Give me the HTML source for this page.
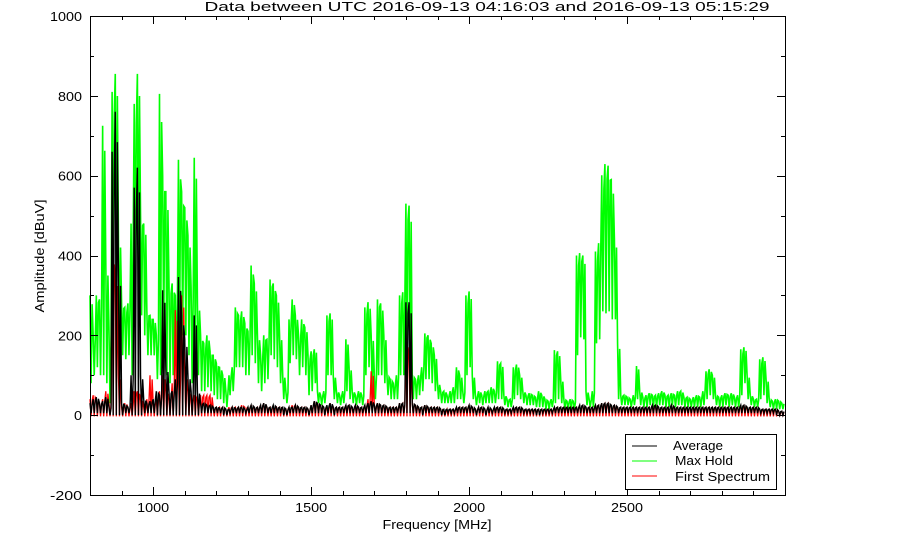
<!DOCTYPE html>
<html><head><meta charset="utf-8"><style>
body{margin:0;background:#fff;}
svg{display:block;font-family:"Liberation Sans",sans-serif;}
</style></head><body>
<svg id="chart" width="904" height="539" viewBox="0 0 904 539">
<text x="487" y="11" text-anchor="middle" font-size="13" textLength="565" lengthAdjust="spacingAndGlyphs">Data between UTC 2016-09-13 04:16:03 and 2016-09-13 05:15:29</text>
<g id="plot"></g>
<g id="axes"></g>
<text x="437" y="529" text-anchor="middle" font-size="13" textLength="109" lengthAdjust="spacingAndGlyphs">Frequency [MHz]</text>
<text transform="translate(44,256) rotate(-90)" text-anchor="middle" font-size="13" textLength="113" lengthAdjust="spacingAndGlyphs">Amplitude [dBuV]</text>
<g>
<rect x="625.5" y="434.5" width="151" height="55" fill="#fff" stroke="#000"/>
<line x1="632" y1="446" x2="657" y2="446" stroke="#000"/>
<text x="673" y="450" font-size="13" textLength="50" lengthAdjust="spacingAndGlyphs">Average</text>
<line x1="632" y1="461" x2="657" y2="461" stroke="#00ff00"/>
<text x="675" y="465" font-size="13" textLength="58" lengthAdjust="spacingAndGlyphs">Max Hold</text>
<line x1="632" y1="476" x2="657" y2="476" stroke="#ff0000"/>
<text x="675" y="481" font-size="13" textLength="95" lengthAdjust="spacingAndGlyphs">First Spectrum</text>
</g>
</svg>
<script>
const binStart = 800;
const binWidth = 10;
const maxHi = [300,200,300,290,725,380,220,810,855,450,
280,270,280,480,780,855,500,480,260,250,
240,200,805,600,560,330,330,300,640,560,
520,450,320,645,280,200,180,200,160,150,
130,120,100,60,100,120,270,250,260,230,
210,375,330,200,150,200,190,340,330,300,
200,100,60,240,290,250,200,240,220,150,
160,165,60,50,60,250,255,100,60,50,
60,190,120,60,50,60,50,270,283,200,
100,290,280,200,100,90,80,100,300,308,
530,525,100,90,100,120,205,200,180,150,
80,60,60,50,60,70,120,100,60,300,
310,100,50,60,50,60,60,70,60,135,
130,50,40,40,120,127,100,60,50,55,
50,45,60,50,40,35,40,163,160,90,
40,35,40,35,400,406,400,60,40,60,
410,431,601,629,625,590,440,180,50,50,
45,40,50,123,60,45,50,55,50,50,
55,60,50,50,55,50,60,60,45,45,
40,45,50,45,60,110,115,100,50,45,
50,55,50,55,45,50,165,170,100,50,
40,40,140,145,90,40,35,40,35,30];
const maxLo = [80,100,120,100,100,80,30,200,300,150,
150,140,150,100,300,300,250,200,150,150,
150,90,100,200,100,80,100,100,150,200,
200,150,80,120,100,60,60,70,60,50,
40,40,30,20,50,60,120,120,120,100,
100,150,130,80,60,80,90,150,140,120,
80,40,30,130,150,140,100,120,100,50,
60,80,30,25,30,100,100,40,30,25,
30,60,40,30,25,30,25,100,120,60,
40,100,100,80,50,40,40,40,100,100,
120,120,40,40,50,60,90,90,80,60,
40,30,30,30,30,30,40,40,30,100,
120,40,25,30,25,30,30,30,30,40,
40,25,20,20,40,50,40,30,25,25,
25,20,20,20,15,15,20,30,40,30,
15,15,15,15,150,195,190,25,20,20,
180,190,260,255,260,240,240,40,25,25,
25,20,25,40,25,20,20,25,20,20,
25,25,20,20,25,20,25,25,20,20,
20,20,20,20,25,40,50,40,25,20,
20,25,20,25,20,20,50,80,40,25,
20,20,40,50,30,20,15,15,15,15];
const avgHi = [30,40,45,30,35,45,20,660,760,360,
30,25,20,100,570,620,100,40,30,35,
40,60,50,313,120,60,60,90,346,250,
190,100,60,250,60,30,30,25,25,20,
20,18,20,15,15,20,18,20,20,15,
20,25,20,20,25,30,20,20,25,20,
20,20,15,20,20,25,20,20,20,15,
25,35,30,25,20,25,30,20,20,20,
20,25,25,20,25,20,20,25,30,35,
25,30,25,25,20,20,20,20,30,30,
283,283,30,25,20,20,25,20,20,20,
20,15,15,15,15,15,20,20,20,20,
25,20,15,20,20,15,20,15,20,20,
20,15,15,15,20,20,20,15,15,15,
15,15,15,15,15,15,15,20,20,20,
20,20,20,20,20,25,25,20,20,20,
25,25,30,30,30,25,25,20,20,20,
20,20,20,20,20,20,20,20,25,25,
20,20,20,20,25,20,20,20,20,20,
20,20,20,20,20,20,20,20,20,20,
20,20,20,20,20,20,25,25,20,20,
20,20,15,15,15,15,15,15,10,10];
const avgLo = [5,5,5,5,5,5,0,0,0,0,
0,5,5,0,0,0,0,5,5,5,
5,0,0,0,0,0,0,0,0,0,
0,0,0,0,0,5,5,5,5,5,
5,5,0,0,5,5,5,5,5,5,
5,5,5,5,5,5,5,5,5,5,
5,0,0,5,5,5,5,5,5,0,
5,5,5,5,0,5,5,0,5,5,
5,5,5,5,5,5,5,5,5,5,
5,5,5,5,5,5,5,5,5,5,
5,5,5,5,5,0,5,5,5,5,
5,0,0,5,5,5,5,5,5,5,
5,5,0,5,5,0,5,5,5,5,
5,5,5,5,5,5,5,5,5,5,
5,0,0,5,5,5,5,5,5,5,
5,5,5,5,5,5,5,5,5,5,
5,5,5,5,5,5,5,5,5,5,
5,5,5,5,5,5,5,5,5,5,
5,5,5,5,5,5,5,5,5,5,
5,5,5,5,5,5,5,5,5,5,
5,5,5,5,5,5,5,5,5,5,
5,5,5,5,5,5,5,0,0,0];
const firstHi = [40,50,40,30,40,60,30,420,360,100,
20,30,20,30,60,60,40,20,40,100,
30,40,60,100,60,40,80,263,100,300,
100,60,40,50,40,50,50,50,50,20,
20,20,20,15,20,20,20,20,25,20,
20,25,20,20,25,30,20,20,20,20,
20,15,15,20,25,25,20,20,20,15,
25,35,30,25,20,20,30,20,20,20,
20,25,25,20,25,20,20,25,40,110,
25,30,25,25,20,20,20,20,30,30,
170,170,30,25,20,20,25,20,20,20,
20,15,10,15,15,15,20,20,20,20,
25,20,15,20,20,15,20,15,20,20,
20,15,15,15,20,20,20,15,15,15,
15,15,15,15,15,15,15,20,20,20,
20,20,20,20,20,25,25,20,20,20,
25,25,30,30,30,25,25,20,20,20,
20,20,20,20,20,20,20,20,25,25,
20,20,20,20,25,20,20,20,20,20,
20,20,20,20,20,20,20,20,20,20,
20,20,20,20,20,20,25,25,20,20,
20,20,15,15,15,15,15,15,10,10];
const firstLo = new Array(220).fill(-3);
const yTicks = [-200,0,200,400,600,800,1000];
const xTicks = [1000,1500,2000,2500];

const X0=90,X1=785,Y0=16,Y1=495,FMIN=800,FMAX=3000,VMIN=-200,VMAX=1000;
const xs=f=>X0+(f-FMIN)/(FMAX-FMIN)*(X1-X0);
const ys=v=>Y1-(v-VMIN)/(VMAX-VMIN)*(Y1-Y0);
const NS='http://www.w3.org/2000/svg';
const plot=document.getElementById('plot');
const axes=document.getElementById('axes');
function mk(tag,attrs,parent){const e=document.createElementNS(NS,tag);for(const k in attrs)e.setAttribute(k,attrs[k]);parent.appendChild(e);return e;}

function series(hi,lo,color,name,w){
  let pts=[];
  for(let i=0;i<hi.length;i++){
    const f=binStart+i*binWidth;
    pts.push(xs(f).toFixed(2)+','+ys(hi[i]).toFixed(2));
    pts.push(xs(f+binWidth/3).toFixed(2)+','+ys(lo[i]).toFixed(2));
    pts.push(xs(f+2*binWidth/3).toFixed(2)+','+ys((hi[i]+lo[i])/2+(hi[i]-lo[i])*0.4).toFixed(2));
  }
  const p=mk('polyline',{points:pts.join(' '),fill:'none',stroke:color,'stroke-width':w},plot);
  
  
}
series(maxHi,maxLo,'#00ff00','max-hold-series',1.6);
series(firstHi,firstLo,'#ff0000','first-spectrum-series',1.3);
series(avgHi,avgLo,'#000000','average-series',1.4);

const frame=mk('rect',{x:X0+0.5,y:Y0+0.5,width:X1-X0,height:Y1-Y0,fill:'none',stroke:'#000'},axes);


for(let v=VMIN;v<=VMAX;v+=100){
  const y=Math.round(ys(v))+0.5;const len=(v%200===0)?8:4;
  mk('line',{x1:X0,y1:y,x2:X0+len,y2:y,stroke:'#000'},axes);
  mk('line',{x1:X1,y1:y,x2:X1-len,y2:y,stroke:'#000'},axes);
}
for(let f=FMIN;f<=FMAX;f+=100){
  const x=Math.round(xs(f))+0.5;const len=(f%500===0)?8:4;
  mk('line',{x1:x,y1:Y1,x2:x,y2:Y1-len,stroke:'#000'},axes);
  mk('line',{x1:x,y1:Y0,x2:x,y2:Y0+len,stroke:'#000'},axes);
}
yTicks.forEach(v=>{
  const t=mk('text',{x:82,y:ys(v)+5,'text-anchor':'end','font-size':13,textLength:String(v).length*8,lengthAdjust:'spacingAndGlyphs'},axes);
  t.textContent=v;
  
  
});
xTicks.forEach(f=>{
  const t=mk('text',{x:xs(f),y:512,'text-anchor':'middle','font-size':13,textLength:32,lengthAdjust:'spacingAndGlyphs'},axes);
  t.textContent=f;
  
  
});
</script>
</body></html>
